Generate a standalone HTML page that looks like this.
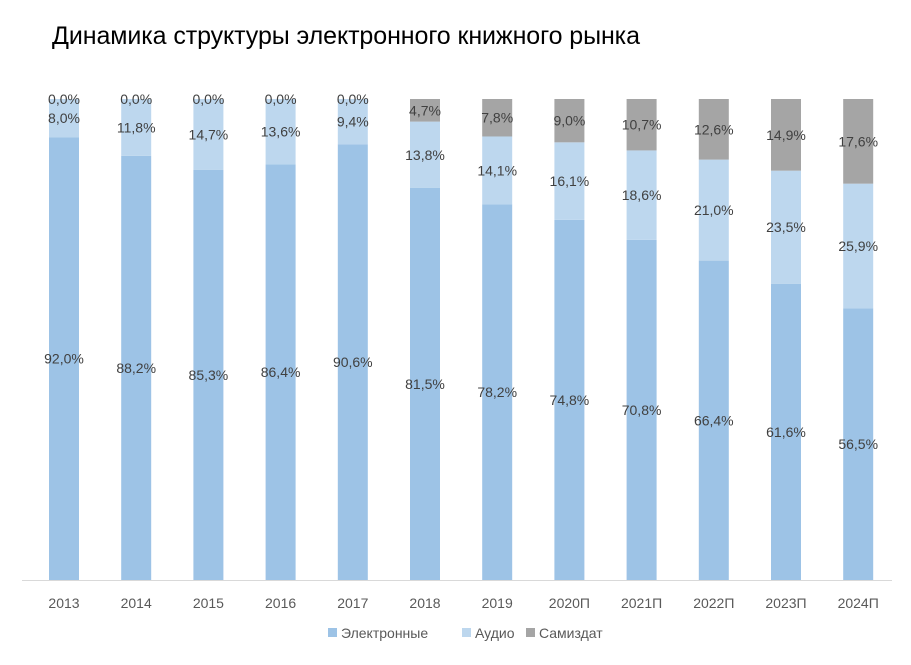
<!DOCTYPE html>
<html><head><meta charset="utf-8"><style>
body{margin:0;background:#fff;width:911px;height:660px;overflow:hidden;font-family:"Liberation Sans","DejaVu Sans",sans-serif}
</style></head><body>
<svg width="911" height="660" xmlns="http://www.w3.org/2000/svg" font-family="Liberation Sans, DejaVu Sans, sans-serif">
<text x="52" y="44" font-size="25" fill="#000" textLength="588">Динамика структуры электронного книжного рынка</text>
<line x1="22" y1="580.5" x2="892" y2="580.5" stroke="#d9d9d9" stroke-width="1"/>
<g id="bars" font-size="14" fill="#404040" text-anchor="middle"></g>
<g font-size="14" fill="#595959">
<rect x="328" y="628" width="9" height="9" fill="#9dc3e6"/><text x="341" y="638">Электронные</text>
<rect x="462" y="628" width="9" height="9" fill="#bdd7ee"/><text x="475" y="638">Аудио</text>
<rect x="526" y="628" width="9" height="9" fill="#a5a5a5"/><text x="539" y="638">Самиздат</text>
</g>
</svg>
<script>
var d=[["2013",92.0,8.0,0.0],["2014",88.2,11.8,0.0],["2015",85.3,14.7,0.0],["2016",86.4,13.6,0.0],["2017",90.6,9.4,0.0],["2018",81.5,13.8,4.7],["2019",78.2,14.1,7.8],["2020П",74.8,16.1,9.0],["2021П",70.8,18.6,10.7],["2022П",66.4,21.0,12.6],["2023П",61.6,23.5,14.9],["2024П",56.5,25.9,17.6]];
var g=document.getElementById('bars'),s="";
var yTop=99,yBot=580,H=yBot-yTop,w=30;
function f(v){return v.toFixed(1).replace('.',',')+'%';}
d.forEach(function(r,i){
 var cx=64+i*72.2,x=cx-w/2,tot=r[1]+r[2]+r[3];
 var he=H*r[1]/tot,ha=H*r[2]/tot,hs=H*r[3]/tot;
 var ye=yBot-he,ya=ye-ha,ys=ya-hs;
 s+='<rect x="'+x+'" y="'+ye+'" width="'+w+'" height="'+he+'" fill="#9dc3e6"/>';
 s+='<rect x="'+x+'" y="'+ya+'" width="'+w+'" height="'+ha+'" fill="#bdd7ee"/>';
 if(hs>0)s+='<rect x="'+x+'" y="'+ys+'" width="'+w+'" height="'+hs+'" fill="#a5a5a5"/>';
 s+='<text x="'+cx+'" y="'+(ye+he/2+5)+'">'+f(r[1])+'</text>';
 s+='<text x="'+cx+'" y="'+(ya+ha/2+5)+'">'+f(r[2])+'</text>';
 s+='<text x="'+cx+'" y="'+(ys+hs/2+5)+'">'+f(r[3])+'</text>';
 s+='<text x="'+cx+'" y="608" fill="#595959">'+r[0]+'</text>';
});
g.innerHTML=s;
</script>
</body></html>
